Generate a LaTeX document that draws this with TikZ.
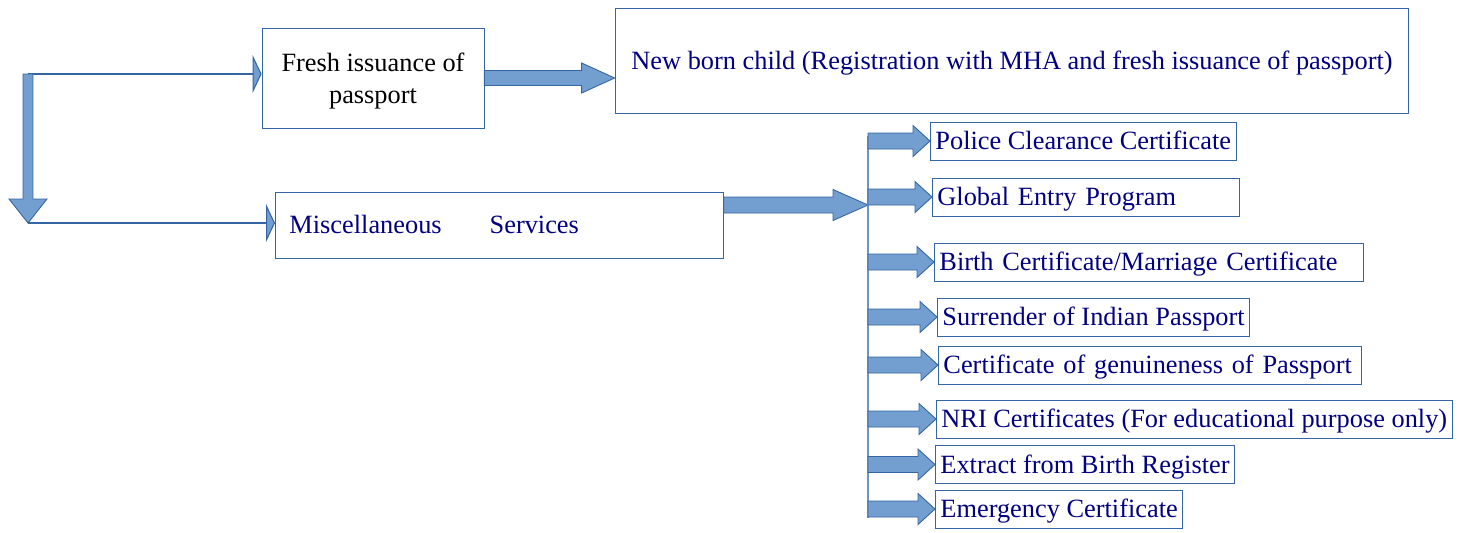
\documentclass[tikz,border=0pt]{standalone}
\usepackage{fontspec}
\setmainfont{Liberation Serif}
\usetikzlibrary{calc,arrows.meta}

\definecolor{linkblue}{HTML}{3465A4}
\definecolor{arrowblue}{HTML}{729FCF}
\definecolor{textnavy}{HTML}{000080}

% broad arrow: tail, tip, half shaft, half head, head length
\newcommand{\blockarrow}[5]{%
  \path (#2) coordinate (tip) ($(#2)!#5!(#1)$) coordinate (base);
  \filldraw[fill=arrowblue, draw=linkblue, line width=0.5pt]
    ($(#1)!#3!90:(tip)$) -- ($(base)!#3!90:(tip)$) -- ($(base)!#4!90:(tip)$) -- (tip)
    -- ($(base)!#4!-90:(tip)$) -- ($(base)!#3!-90:(tip)$) -- ($(#1)!#3!-90:(tip)$) -- cycle;
}

\begin{document}
\begin{tikzpicture}[x=0.02cm, y=-0.02cm,
  box/.style={draw=linkblue, line width=0.5pt, inner xsep=0.1cm, inner ysep=0pt,
    font=\fontsize{15}{18}\selectfont, text=textnavy},
  oneline/.style={box, text height=10pt, text depth=0pt},
  item/.style={oneline, anchor=west, minimum height=0.76cm},
  wideitem/.style={item, text width=#1, align=left},
  thinarr/.style={draw=linkblue, line width=0.6pt,
    -{Triangle[length=0.18cm, width=0.76cm, fill=arrowblue]}},
  busline/.style={draw=linkblue!70, line width=0.8pt}]

\useasboundingbox (0,0) rectangle (1468,532);

\node[box, text=black, text depth=0pt, minimum width=4.44cm, minimum height=2cm, align=center] (fresh) at (373,78) {Fresh issuance of\\passport};
\node[oneline, minimum width=15.88cm, minimum height=2.1cm] (newborn) at (1012,60.5) {New born child (Registration with MHA and fresh issuance of passport)};

\node[oneline, anchor=west, inner xsep=0.28cm, text width=8.4cm, minimum height=1.32cm, align=left] (misc) at (275,225) {Miscellaneous\hspace{0.96cm}Services};

% services list
\node[item]          (p1) at (930,141)   {Police Clearance Certificate};
\node[wideitem=5.94cm] (p2) at (932,197) {Global Entry Program};
\node[wideitem=8.38cm] (p3) at (934,262) {Birth Certificate/Marriage Certificate};
\node[item]          (p4) at (937,317)   {Surrender of Indian Passport};
\node[wideitem=8.26cm] (p5) at (938,365) {Certificate of genuineness of Passport};
\node[item]          (p6) at (936,419)   {NRI Certificates (For educational purpose only)};
\node[item]          (p7) at (935,464.5) {Extract from Birth Register};
\node[item]          (p8) at (935,509)   {Emergency Certificate};

\coordinate (top) at (28,74);
\coordinate (bot) at (28,223);
\coordinate (bus) at (868,205);

\draw[thinarr] (top) -- (top -| fresh.west);
\draw[thinarr] (bot) -- (bot -| misc.west);
\blockarrow{top}{bot}{0.1cm}{0.38cm}{0.48cm}

\blockarrow{fresh.east}{newborn.west |- fresh.east}{0.15cm}{0.3cm}{0.66cm}
\blockarrow{misc.east |- bus}{bus}{0.16cm}{0.31cm}{0.7cm}

\draw[busline, shorten <=-0.1cm, shorten >=-0.18cm] (bus |- p1.west) -- (bus |- p8.west);
\foreach \i in {1,...,8} {
  \blockarrow{bus |- p\i.west}{p\i.west}{0.16cm}{0.31cm}{0.34cm}
}

\end{tikzpicture}
\end{document}
